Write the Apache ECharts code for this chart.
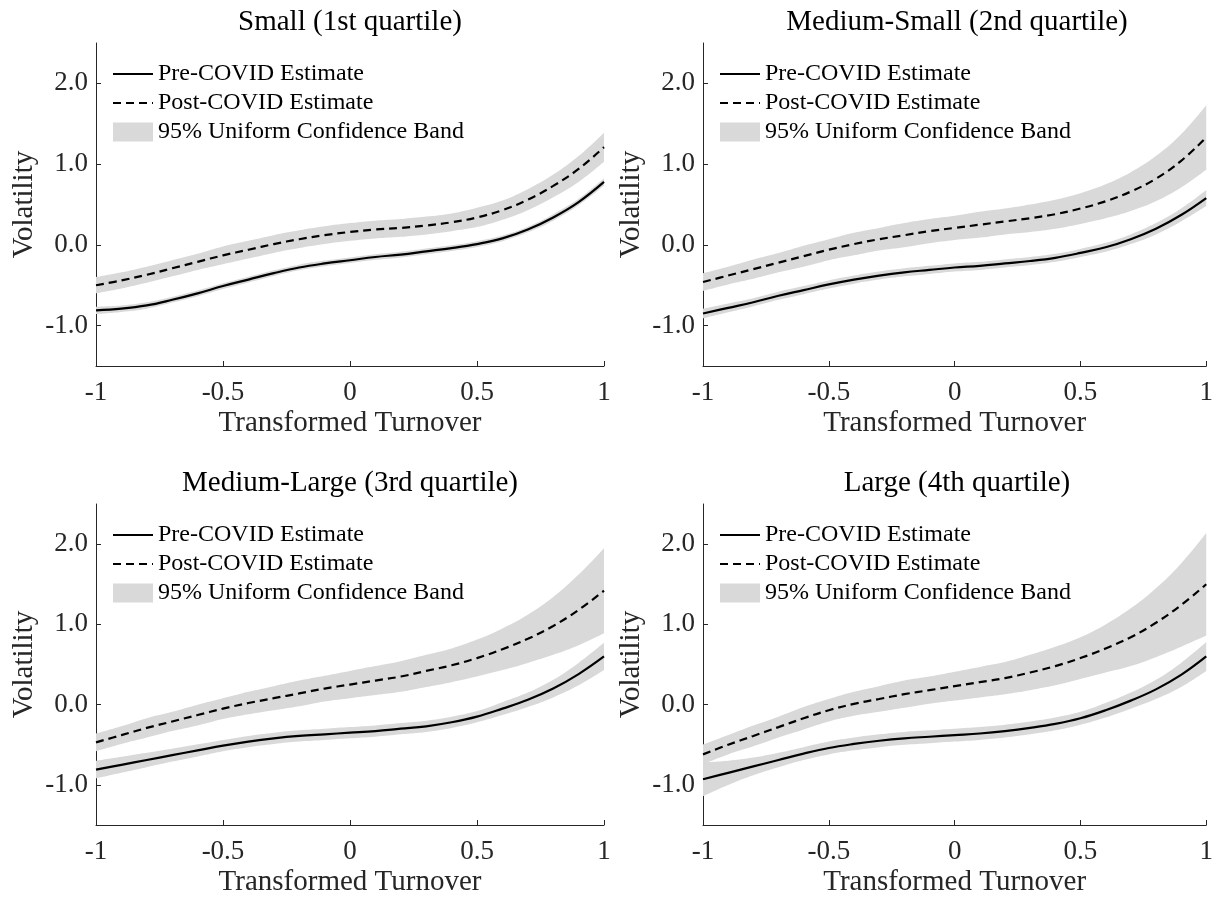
<!DOCTYPE html>
<html>
<head>
<meta charset="utf-8">
<script src="https://cdn.jsdelivr.net/npm/echarts@6/dist/echarts.min.js"></script>
<style>
html, body { margin: 0; padding: 0; background: #fff; }
#container { width: 1216px; height: 898px; }
</style>
</head>
<body>
<div id="container"></div>
<script>
// transformed turnover grid and tick positions
var xs = [-1, -0.9, -0.8, -0.7, -0.6, -0.5, -0.4, -0.3, -0.2, -0.1, 0, 0.1, 0.2, 0.3, 0.4, 0.5, 0.6, 0.7, 0.8, 0.9, 1];
var xTicks = [-1, -0.5, 0, 0.5, 1];
var yTicks = [-1, 0, 1, 2];
var titles = ['Small (1st quartile)', 'Medium-Small (2nd quartile)', 'Medium-Large (3rd quartile)', 'Large (4th quartile)'];

// estimates and half-widths of the 95% bands
var smallPre = [-0.81, -0.79, -0.75, -0.68, -0.60, -0.51, -0.43, -0.35, -0.28, -0.23, -0.19, -0.15, -0.12, -0.08, -0.04, 0.01, 0.08, 0.19, 0.34, 0.53, 0.78];
var smallPreHw = [0.045, 0.04, 0.04, 0.035, 0.035, 0.035, 0.035, 0.035, 0.035, 0.035, 0.035, 0.035, 0.035, 0.035, 0.035, 0.035, 0.035, 0.035, 0.04, 0.04, 0.045];
var smallPost = [-0.50, -0.44, -0.37, -0.29, -0.21, -0.13, -0.06, 0.01, 0.07, 0.12, 0.16, 0.19, 0.21, 0.24, 0.28, 0.34, 0.43, 0.56, 0.73, 0.94, 1.21];
var smallPostHw = [0.10, 0.10, 0.10, 0.10, 0.10, 0.11, 0.11, 0.11, 0.11, 0.11, 0.11, 0.11, 0.11, 0.11, 0.11, 0.12, 0.12, 0.13, 0.14, 0.16, 0.18];

var medSmallPre = [-0.85, -0.78, -0.71, -0.63, -0.56, -0.49, -0.43, -0.38, -0.34, -0.31, -0.28, -0.26, -0.23, -0.20, -0.16, -0.10, -0.03, 0.07, 0.20, 0.37, 0.58];
var medSmallPreHw = [0.06, 0.055, 0.05, 0.05, 0.05, 0.05, 0.05, 0.05, 0.05, 0.05, 0.05, 0.05, 0.05, 0.05, 0.05, 0.05, 0.055, 0.06, 0.07, 0.08, 0.10];
var medSmallPost = [-0.46, -0.38, -0.30, -0.22, -0.14, -0.06, 0.01, 0.07, 0.12, 0.17, 0.21, 0.25, 0.29, 0.33, 0.38, 0.45, 0.54, 0.66, 0.82, 1.04, 1.33];
var medSmallPostHw = [0.11, 0.11, 0.12, 0.12, 0.13, 0.13, 0.14, 0.14, 0.15, 0.15, 0.15, 0.16, 0.16, 0.17, 0.18, 0.19, 0.21, 0.24, 0.28, 0.33, 0.40];

var medLargePre = [-0.81, -0.75, -0.69, -0.63, -0.57, -0.51, -0.46, -0.42, -0.39, -0.37, -0.35, -0.33, -0.30, -0.27, -0.22, -0.15, -0.05, 0.06, 0.20, 0.38, 0.60];
var medLargePreHw = [0.11, 0.10, 0.09, 0.08, 0.075, 0.07, 0.07, 0.07, 0.07, 0.07, 0.07, 0.07, 0.07, 0.07, 0.07, 0.07, 0.08, 0.09, 0.11, 0.14, 0.17];
var medLargePost = [-0.47, -0.38, -0.29, -0.21, -0.13, -0.05, 0.02, 0.08, 0.14, 0.20, 0.25, 0.30, 0.35, 0.42, 0.49, 0.58, 0.69, 0.82, 0.98, 1.18, 1.42];
var medLargePostHw = [0.11, 0.11, 0.12, 0.12, 0.13, 0.13, 0.14, 0.15, 0.16, 0.16, 0.17, 0.18, 0.19, 0.20, 0.21, 0.23, 0.26, 0.30, 0.36, 0.44, 0.53];

var largePre = [-0.93, -0.85, -0.77, -0.69, -0.61, -0.54, -0.49, -0.45, -0.42, -0.40, -0.38, -0.36, -0.33, -0.29, -0.24, -0.17, -0.07, 0.05, 0.19, 0.37, 0.60];
var largePreHw = [0.21, 0.15, 0.11, 0.09, 0.08, 0.08, 0.08, 0.08, 0.08, 0.08, 0.08, 0.08, 0.08, 0.08, 0.08, 0.08, 0.09, 0.10, 0.12, 0.15, 0.18];
var largePost = [-0.62, -0.50, -0.39, -0.28, -0.17, -0.07, 0.01, 0.07, 0.13, 0.18, 0.23, 0.28, 0.33, 0.40, 0.48, 0.58, 0.70, 0.84, 1.02, 1.24, 1.50];
var largePostHw = [0.12, 0.12, 0.13, 0.13, 0.14, 0.14, 0.15, 0.16, 0.17, 0.17, 0.18, 0.19, 0.20, 0.22, 0.24, 0.26, 0.30, 0.36, 0.43, 0.52, 0.64];

var panels = [
    {pre: smallPre, preHw: smallPreHw, post: smallPost, postHw: smallPostHw},
    {pre: medSmallPre, preHw: medSmallPreHw, post: medSmallPost, postHw: medSmallPostHw},
    {pre: medLargePre, preHw: medLargePreHw, post: medLargePost, postHw: medLargePostHw},
    {pre: largePre, preHw: largePreHw, post: largePost, postHw: largePostHw}
];

var FONT = 'Liberation Serif';
var AXIS_COLOR = '#262626';
var BAND_COLOR = '#d9d9d9';
var BAND_NAME = '95% Uniform Confidence Band';
var gridPos = [
    {left: 96, top: 43}, {left: 703, top: 43},
    {left: 96, top: 504}, {left: 703, top: 504}
];
var GW = 508, GH = 323;

var dom = document.getElementById('container');
var myChart = echarts.init(dom);

var categories = xs.map(function (x) { return x.toFixed(1); });
function isTick(idx) { return xTicks.indexOf(xs[idx]) >= 0; }

function lower(est, hw) { return est.map(function (v, i) { return +(v - hw[i]).toFixed(4); }); }
function width(hw) { return hw.map(function (h) { return +(2 * h).toFixed(4); }); }

var grid = [], xAxis = [], yAxis = [], title = [], legend = [], series = [];

panels.forEach(function (p, i) {
    var g = gridPos[i];
    grid.push({left: g.left, top: g.top, width: GW, height: GH});
    title.push({
        text: titles[i],
        left: g.left + GW / 2,
        top: g.top - 35,
        textAlign: 'center',
        padding: 0,
        textStyle: {fontFamily: FONT, fontSize: 29, fontWeight: 'normal', color: '#000'}
    });
    legend.push({
        orient: 'vertical',
        left: g.left + 16,
        top: g.top + 19,
        padding: 0,
        itemWidth: 40,
        itemHeight: 19,
        itemGap: 5,
        selectedMode: false,
        textStyle: {fontFamily: FONT, fontSize: 24, color: '#000', lineHeight: 19},
        data: [
            {name: 'Pre-COVID Estimate', itemStyle: {opacity: 0}},
            {name: 'Post-COVID Estimate', itemStyle: {opacity: 0}},
            {name: BAND_NAME, icon: 'rect', itemStyle: {color: BAND_COLOR, opacity: 1}}
        ]
    });
    xAxis.push({
        type: 'category',
        gridIndex: i,
        data: categories,
        boundaryGap: false,
        name: 'Transformed Turnover',
        nameLocation: 'middle',
        nameGap: 43,
        nameTextStyle: {fontFamily: FONT, fontSize: 29, color: AXIS_COLOR},
        axisLine: {onZero: false, lineStyle: {color: AXIS_COLOR, width: 1}},
        axisTick: {inside: true, length: 5, interval: function (idx) { return isTick(idx); }, lineStyle: {color: AXIS_COLOR}},
        axisLabel: {
            interval: function (idx) { return isTick(idx); },
            margin: 13,
            fontFamily: FONT, fontSize: 27, color: AXIS_COLOR,
            formatter: function (v) { return String(Number(v)); }
        },
        splitLine: {show: false}
    });
    yAxis.push({
        type: 'value',
        gridIndex: i,
        min: -1.5,
        max: 2.5,
        name: 'Volatility',
        nameLocation: 'middle',
        nameGap: 57,
        nameTextStyle: {fontFamily: FONT, fontSize: 29, color: AXIS_COLOR},
        axisLine: {show: true, onZero: false, lineStyle: {color: AXIS_COLOR, width: 1}},
        axisTick: {show: true, inside: true, length: 5, customValues: yTicks, lineStyle: {color: AXIS_COLOR}},
        axisLabel: {
            customValues: yTicks,
            margin: 8,
            fontFamily: FONT, fontSize: 27, color: AXIS_COLOR,
            formatter: function (v) { return v.toFixed(1); }
        },
        splitLine: {show: false}
    });

    var bands = [[p.pre, p.preHw, 'pre'], [p.post, p.postHw, 'post']];
    bands.forEach(function (b) {
        var stack = b[2] + i;
        series.push({
            type: 'line', xAxisIndex: i, yAxisIndex: i, stack: stack, stackStrategy: 'all',
            data: lower(b[0], b[1]), smooth: 0.4, symbol: 'none', silent: true,
            lineStyle: {width: 0, opacity: 0}, z: 1
        });
        series.push({
            name: BAND_NAME, type: 'line', xAxisIndex: i, yAxisIndex: i, stack: stack, stackStrategy: 'all',
            data: width(b[1]), smooth: 0.4, symbol: 'none', silent: true,
            color: BAND_COLOR,
            itemStyle: {color: BAND_COLOR},
            lineStyle: {width: 0, opacity: 0},
            areaStyle: {color: BAND_COLOR, opacity: 1}, z: 1
        });
    });
    series.push({
        name: 'Pre-COVID Estimate', type: 'line', xAxisIndex: i, yAxisIndex: i,
        data: p.pre, smooth: 0.4, symbol: 'none', silent: true, color: '#000',
        lineStyle: {color: '#000', width: 2.2, type: 'solid'}, z: 3
    });
    series.push({
        name: 'Post-COVID Estimate', type: 'line', xAxisIndex: i, yAxisIndex: i,
        data: p.post, smooth: 0.4, symbol: 'none', silent: true, color: '#000',
        lineStyle: {color: '#000', width: 2.2, type: [8, 5]}, z: 3
    });
});

option = {
    backgroundColor: '#fff',
    animation: false,
    title: title,
    legend: legend,
    grid: grid,
    xAxis: xAxis,
    yAxis: yAxis,
    series: series
};

if (option && typeof option === 'object') {
    myChart.setOption(option, true);
}
</script>
</body>
</html>
